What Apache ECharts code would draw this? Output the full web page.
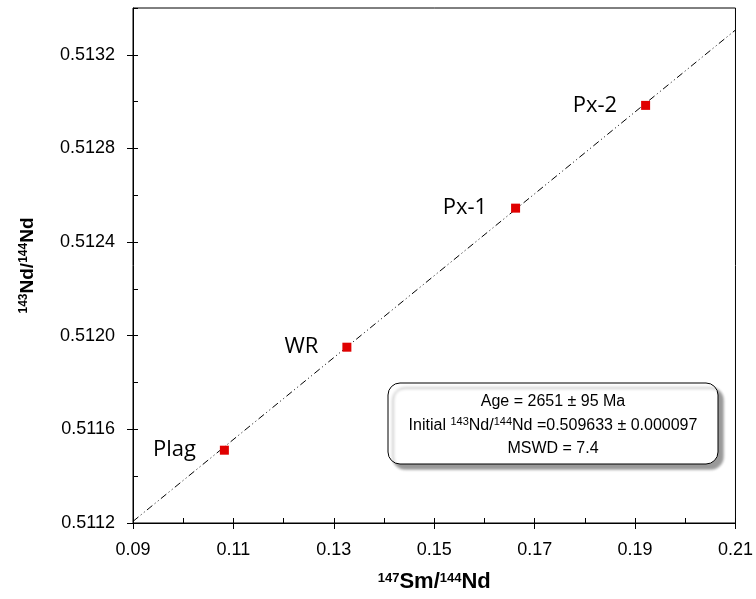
<!DOCTYPE html>
<html>
<head>
<meta charset="utf-8">
<script src="https://cdn.jsdelivr.net/npm/echarts@6/dist/echarts.min.js"></script>
<style>
  html, body { margin: 0; padding: 0; background: #fff; }
  #chart { width: 756px; height: 599px; }
</style>
</head>
<body>
<div id="chart"></div>
<script>
// 样品数据
const sampleNames = ['Plag', 'WR', 'Px-1', 'Px-2']
const smNd = [0.1082, 0.1326, 0.1662, 0.1921]
const ndNd = [0.511511, 0.511951, 0.512545, 0.512984]

// 等时线端点
const isoX = [0.09, 0.21]
const isoY = [0.511207, 0.513306]

// x 轴刻度标签
const xTickLabels = ['0.09', '0.10', '0.11', '0.12', '0.13', '0.14', '0.15',
  '0.16', '0.17', '0.18', '0.19', '0.20', '0.21']

const chart = echarts.init(document.getElementById('chart'))

const axisFont = { fontFamily: 'Liberation Sans', fontSize: 18, color: '#000' }
const xNameRich = {
  b: { fontFamily: 'Liberation Sans', fontSize: 22, fontWeight: 'bold', color: '#000' },
  s: { fontFamily: 'Liberation Sans', fontSize: 13, fontWeight: 'bold', color: '#000', padding: [0, 0, 8, 0] }
}
const yNameRich = {
  b: { fontFamily: 'Liberation Sans', fontSize: 19, fontWeight: 'bold', color: '#000' },
  s: { fontFamily: 'Liberation Sans', fontSize: 12, fontWeight: 'bold', color: '#000', padding: [0, 0, 7, 0] }
}

chart.setOption({
  animation: false,
  grid: {
    left: 133, right: 15, top: 8, bottom: 76,
    show: true, borderColor: '#000', borderWidth: 1, backgroundColor: 'transparent'
  },
  xAxis: [
    {
      type: 'value', min: 0.09, max: 0.21, interval: 0.01, position: 'bottom',
      axisLine: { lineStyle: { color: '#000', width: 1 } },
      axisTick: { inside: true, length: 5, lineStyle: { color: '#000' } },
      axisLabel: {
        ...axisFont, margin: 18,
        formatter: v => (Math.round(v * 100) % 2 === 1 ? v.toFixed(2) : '')
      },
      splitLine: { show: false },
      name: '{s|147}{b|Sm/}{s|144}{b|Nd}',
      nameLocation: 'middle', nameGap: 48,
      nameTextStyle: { rich: xNameRich }
    },
    {
      type: 'category', data: xTickLabels, boundaryGap: false, position: 'bottom',
      axisLine: { show: false },
      axisTick: { inside: false, length: 6, interval: 1, lineStyle: { color: '#000' } },
      axisLabel: { show: false },
      splitLine: { show: false }
    }
  ],
  yAxis: [
    {
      type: 'value', min: 0.5112, max: 0.5134, interval: 0.0004, position: 'left',
      axisLine: { lineStyle: { color: '#000', width: 1 } },
      axisTick: { inside: false, length: 6, lineStyle: { color: '#000' } },
      axisLabel: { ...axisFont, margin: 18, showMaxLabel: false, formatter: v => v.toFixed(4) },
      splitLine: { show: false },
      name: '{s|143}{b|Nd/}{s|144}{b|Nd}',
      nameLocation: 'middle', nameGap: 96,
      nameTextStyle: { rich: yNameRich }
    },
    {
      type: 'value', min: 0.5112, max: 0.5134, interval: 0.0002, position: 'left',
      axisLine: { show: false },
      axisTick: { inside: true, length: 5, lineStyle: { color: '#000' } },
      axisLabel: { show: false },
      splitLine: { show: false }
    }
  ],
  series: [
    {
      type: 'line',
      data: isoX.map((x, i) => [x, isoY[i]]),
      symbol: 'none',
      lineStyle: { color: '#000', width: 1, type: [7, 3, 1, 3, 1, 3] },
      z: 1
    },
    {
      type: 'scatter',
      data: smNd.map((x, i) => ({ name: sampleNames[i], value: [x, ndNd[i]] })),
      symbol: 'rect', symbolSize: 9,
      itemStyle: { color: '#e00000', opacity: 1 },
      label: {
        show: true, position: 'left', distance: 24,
        formatter: p => p.name,
        fontFamily: 'Open Sans', fontSize: 22, color: '#000', opacity: 1
      },
      z: 3
    }
  ],
  graphic: [
    {
      type: 'rect', x: 388, y: 383,
      shape: { width: 330, height: 81, r: 12 },
      style: {
        fill: '#fff', stroke: '#000', lineWidth: 1,
        shadowColor: 'rgba(0,0,0,0.4)', shadowBlur: 3, shadowOffsetX: 5, shadowOffsetY: 5
      },
      z: 10
    },
    {
      type: 'text', x: 553, y: 390,
      style: {
        text: '{a|Age = 2651 ± 95 Ma}\n{a|Initial }{s|143}{a|Nd/}{s|144}{a|Nd =0.509633 ± 0.000097}\n{a|MSWD = 7.4}',
        align: 'center', verticalAlign: 'top',
        rich: {
          a: { fontFamily: 'Liberation Sans', fontSize: 16, color: '#000', lineHeight: 23.5 },
          s: { fontFamily: 'Liberation Sans', fontSize: 11, color: '#000', lineHeight: 23.5, padding: [0, 0, 6, 0] }
        }
      },
      z: 11
    }
  ]
})
</script>
</body>
</html>
